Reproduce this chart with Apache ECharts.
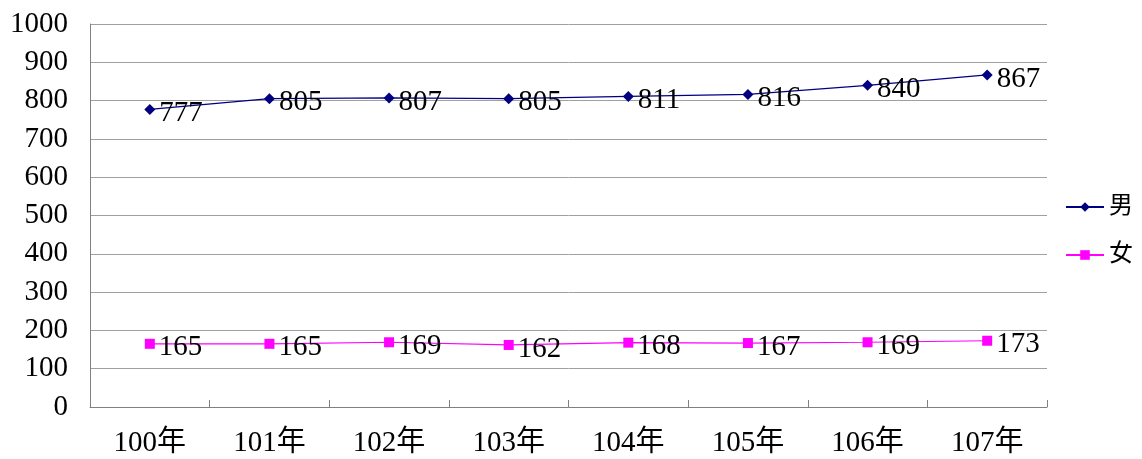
<!DOCTYPE html>
<html><head><meta charset="utf-8">
<script src="https://cdn.jsdelivr.net/npm/echarts@6/dist/echarts.min.js"></script>
<style>html,body{margin:0;padding:0;background:#fff}#c{width:1142px;height:459px}</style>
</head><body><div id="c"></div>
<script>
const categories = ['100年','101年','102年','103年','104年','105年','106年','107年'];
const male = [777, 805, 807, 805, 811, 816, 840, 867];
const female = [165, 165, 169, 162, 168, 167, 169, 173];
const yTicks = [0,100,200,300,400,500,600,700,800,900,1000];
const FONT = '"Liberation Serif", "Noto Sans CJK TC", serif';
const chart = echarts.init(document.getElementById('c'));
const lbl = {show:true, position:'right', distance:4, color:'#000', fontFamily:FONT, fontSize:29, offset:[0,4]};
chart.setOption({
  animation:false,
  grid:{left:90, right:95, top:24, bottom:52},
  legend:{orient:'vertical', right:4, top:190, itemGap:24, itemWidth:38, itemHeight:12,
    textStyle:{fontFamily:FONT, fontSize:24, color:'#000'}, data:['男','女']},
  xAxis:{type:'category', data:categories, boundaryGap:true,
    axisLine:{lineStyle:{color:'#808080'}},
    axisTick:{show:true, inside:true, length:7, lineStyle:{color:'#808080'}},
    axisLabel:{color:'#000', fontFamily:FONT, fontSize:29, margin:22}},
  yAxis:{type:'value', min:0, max:1000, interval:100,
    axisLine:{show:true, lineStyle:{color:'#808080'}},
    axisTick:{show:false},
    splitLine:{lineStyle:{color:'#a0a0a0'}},
    axisLabel:{color:'#000', fontFamily:FONT, fontSize:29, margin:22,
      formatter:v => yTicks.includes(v) ? String(v) : ''}},
  series:[
    {name:'男', type:'line', data:male, symbol:'diamond', symbolSize:11,
      itemStyle:{color:'#000080'}, lineStyle:{color:'#000080', width:1.2}, label:lbl},
    {name:'女', type:'line', data:female, symbol:'rect', symbolSize:10,
      itemStyle:{color:'#ff00ff'}, lineStyle:{color:'#ff00ff', width:1.2}, label:lbl}
  ]
});
</script></body></html>
